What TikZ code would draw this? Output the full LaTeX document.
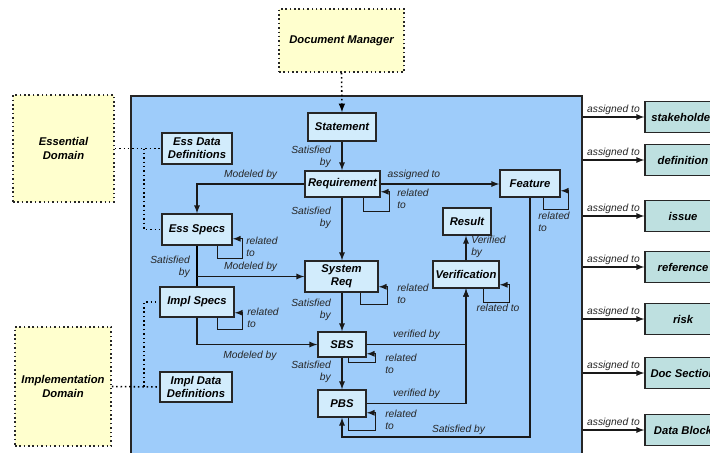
\documentclass[tikz,border=0pt]{standalone}
\usepackage{fontspec}
\setmainfont{Liberation Sans}
\usepackage{tikz}
\usetikzlibrary{arrows}
\definecolor{framebg}{RGB}{158,204,250}
\definecolor{boxbg}{RGB}{210,236,252}
\definecolor{notebg}{RGB}{255,255,206}
\definecolor{asgnbg}{RGB}{190,224,224}
\begin{document}
\begin{tikzpicture}[x=0.025cm,y=-0.025cm]
  \tikzstyle{box} = [rectangle, draw=black!85, line width=1.1pt, fill=boxbg, align=center, inner sep=1pt, font=\fontsize{8}{9.3}\selectfont\bfseries\itshape]
  \tikzstyle{domainbox} = [box, fill=notebg, dotted]
  \tikzstyle{asgn} = [box, fill=asgnbg, minimum width=1.9cm, minimum height=0.775cm]
  \tikzstyle{sysframe} = [rectangle, draw=black!85, line width=1pt, fill=framebg]
  \tikzstyle{lbl} = [inner sep=0pt, text=black!85, font=\fontsize{7.3}{8.6}\selectfont\itshape]
  \tikzstyle{arr} = [-latex, line width=0.9pt, draw=black!90]
  \tikzstyle{dots} = [dotted, line width=1.1pt]

  \clip (0,0) rectangle (710,453);
  \fill[white] (0,0) rectangle (710,453);

  \node (Frame) [sysframe, minimum width=11.275cm, minimum height=9.1cm] at (356.5,278) {};

  \node (DocMgr) [domainbox, minimum width=3.125cm, minimum height=1.575cm] at (341.5,40.5) {Document Manager};
  \node (EssDom) [domainbox, minimum width=2.525cm, minimum height=2.675cm] at (63.5,148.5) {Essential\\Domain};
  \node (ImplDom) [domainbox, minimum width=2.4cm, minimum height=2.975cm] at (63,386.5) {Implementation\\Domain};

  \node (St) [box, minimum width=1.7cm, minimum height=0.7cm] at (342,127) {Statement};
  \node (Req) [box, minimum width=1.875cm, minimum height=0.65cm] at (342.5,184) {Requirement};
  \node (EssDD) [box, minimum width=1.75cm, minimum height=0.775cm] at (197,148.5) {Ess Data\\Definitions};
  \node (EssSp) [box, minimum width=1.75cm, minimum height=0.775cm] at (197,229.5) {Ess Specs};
  \node (ImplSp) [box, minimum width=1.85cm, minimum height=0.75cm] at (197,302) {Impl Specs};
  \node (ImplDD) [box, minimum width=1.8cm, minimum height=0.75cm] at (196,387) {Impl Data\\Definitions};
  \node (SysReq) [box, minimum width=1.825cm, minimum height=0.775cm] at (341.5,276.5) {System\\Req};
  \node (SBS) [box, minimum width=1.2cm, minimum height=0.625cm] at (342,344.5) {SBS};
  \node (PBS) [box, minimum width=1.2cm, minimum height=0.675cm] at (342,403.5) {PBS};
  \node (Feat) [box, minimum width=1.5cm, minimum height=0.675cm] at (530,183.5) {Feature};
  \node (Res) [box, minimum width=1.2cm, minimum height=0.675cm] at (467,221.5) {Result};
  \node (Verif) [box, minimum width=1.65cm, minimum height=0.675cm] at (466,274.5) {Verification};

  \node (Stk) [asgn] at (683,117) {stakeholder};
  \node (Def) [asgn] at (683,160) {definition};
  \node (Iss) [asgn] at (683,216) {issue};
  \node (Ref) [asgn] at (683,267) {reference};
  \node (Risk) [asgn] at (683,319) {risk};
  \node (DocSec) [asgn] at (683,373) {Doc Section};
  \node (DatBl) [asgn] at (683,430) {Data Block};

  \draw[dots, -latex] (DocMgr.south) -- (St.north);
  \draw[dots] (EssDom.east) -- (EssDD.west);
  \coordinate (EssJ) at (144,148.5);
  \draw[dots] (EssJ) |- (EssSp.west);
  \draw[dots] (ImplDom.east) -- (ImplDD.west);
  \coordinate (ImplJ) at (144,387);
  \draw[dots] (ImplJ) |- (ImplSp.west);

  \draw[arr] (St.south) -- (St.south |- Req.north);
  \draw[arr] (Req.west) -| (EssSp.north) node[lbl, pos=.25, above=3pt] (lMod1) {Modeled by};
  \draw[arr] (Req.south -| St.south) -- (SysReq.north -| St.south);
  \draw[arr] (Req.east) -- (Req.east -| Feat.west) node[lbl, pos=.28, above=3pt] (lAsg) {assigned to};
  \draw[line width=0.9pt] (EssSp.south) -- (ImplSp.north);
  \draw[arr] (EssSp.south |- SysReq.west) -- (SysReq.west) node[lbl, pos=.5, above=3pt] (lMod2) {Modeled by};
  \draw[arr] (ImplSp.south) |- (SBS.west) node[lbl, pos=.72, below=4pt] (lMod3) {Modeled by};
  \draw[arr] (SysReq.south -| SBS.north) -- (SBS.north);
  \draw[arr] (SBS.south) -- (PBS.north);
  \draw[arr] (SBS.east) -| (Verif.south) node[lbl, pos=.25, above=3pt] (lVer1) {verified by};
  \draw[arr] (PBS.east) -| (Verif.south) node[lbl, pos=.25, above=3pt] (lVer2) {verified by};
  \draw[arr] (Verif.north) -- (Verif.north |- Res.south);
  \draw[arr] (Feat.south) -- (Feat.south |- 0,437) -| (PBS.south) node[lbl, pos=.19, above=1pt] (lSat5) {Satisfied by};

  \draw[arr] (Req.south east) ++(-17,0) -- ++(0,14) -- ++(26,0) -- ++(0,-20) -- ++(-9,0);
  \draw[arr] (EssSp.south east) ++(-15,0) -- ++(0,13) -- ++(25,0) -- ++(0,-20) -- ++(-10,0);
  \draw[arr] (ImplSp.south east) ++(-17,0) -- ++(0,12) -- ++(25,0) -- ++(0,-17) -- ++(-8,0);
  \draw[arr] (SysReq.south east) ++(-18,0) -- ++(0,12) -- ++(27,0) -- ++(0,-18) -- ++(-9,0);
  \draw[arr] (SBS.south east) ++(-18,0) -- ++(0,5) -- ++(27,0) -- ++(0,-9) -- ++(-9,0);
  \draw[arr] (PBS.south east) ++(-18,0) -- ++(0,13) -- ++(27,0) -- ++(0,-18) -- ++(-9,0);
  \draw[arr] (Feat.south east) ++(-17,0) -- ++(0,12) -- ++(25,0) -- ++(0,-19) -- ++(-8,0);
  \draw[arr] (Verif.south east) ++(-16,0) -- ++(0,14) -- ++(26,0) -- ++(0,-18) -- ++(-10,0);

  \node (lSat1) [lbl, anchor=east, align=right] at (331,157) {Satisfied\\by};
  \node (lSat2) [lbl, anchor=east, align=right] at (331,218) {Satisfied\\by};
  \node (lSat3) [lbl, anchor=east, align=right] at (331,310) {Satisfied\\by};
  \node (lSat4) [lbl, anchor=east, align=right] at (331,372) {Satisfied\\by};
  \node (lSat0) [lbl, anchor=east, align=right] at (190,267) {Satisfied\\by};
  \node (lVfd) [lbl, anchor=west, align=left] at (471,247) {Verified\\by};
  \node (lRel1) [lbl, anchor=west, align=left] at (397,199) {related\\to};
  \node (lRel2) [lbl, anchor=west, align=left] at (246,247) {related\\to};
  \node (lRel3) [lbl, anchor=west, align=left] at (247,318) {related\\to};
  \node (lRel4) [lbl, anchor=west, align=left] at (397,294) {related\\to};
  \node (lRel5) [lbl, anchor=west, align=left] at (385,364) {related\\to};
  \node (lRel6) [lbl, anchor=west, align=left] at (385,420) {related\\to};
  \node (lRel7) [lbl, anchor=west, align=left] at (538,222) {related\\to};
  \node (lRel8) [lbl] at (498,308) {related to};

  \draw[arr] (Frame.east |- Stk.west) -- (Stk.west) node[lbl, midway, above=1.5pt] (lA1) {assigned to};
  \draw[arr] (Frame.east |- Def.west) -- (Def.west) node[lbl, midway, above=1.5pt] (lA2) {assigned to};
  \draw[arr] (Frame.east |- Iss.west) -- (Iss.west) node[lbl, midway, above=1.5pt] (lA3) {assigned to};
  \draw[arr] (Frame.east |- Ref.west) -- (Ref.west) node[lbl, midway, above=1.5pt] (lA4) {assigned to};
  \draw[arr] (Frame.east |- Risk.west) -- (Risk.west) node[lbl, midway, above=1.5pt] (lA5) {assigned to};
  \draw[arr] (Frame.east |- DocSec.west) -- (DocSec.west) node[lbl, midway, above=1.5pt] (lA6) {assigned to};
  \draw[arr] (Frame.east |- DatBl.west) -- (DatBl.west) node[lbl, midway, above=1.5pt] (lA7) {assigned to};
\end{tikzpicture}
\end{document}
